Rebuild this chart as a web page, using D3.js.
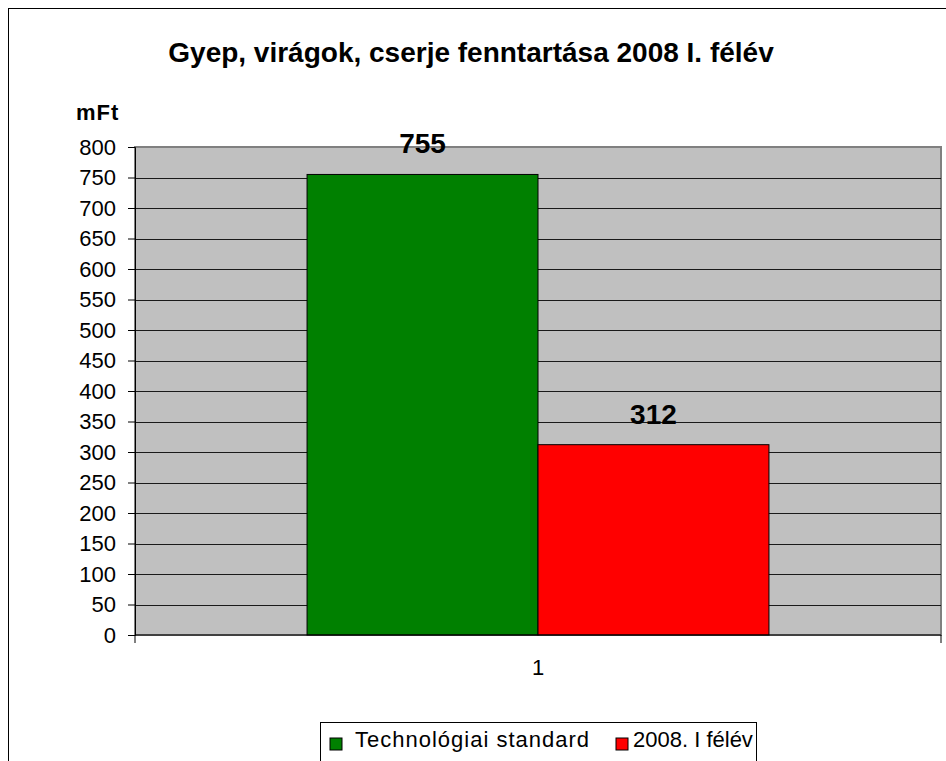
<!DOCTYPE html>
<html>
<head>
<meta charset="utf-8">
<script src="https://cdn.jsdelivr.net/npm/d3@7"></script>
<style>
  body { margin: 0; background: #fff; }
  text { font-family: "Liberation Sans", Arial, sans-serif; }
</style>
</head>
<body>
<div id="chart"></div>
<script>
// data
var categories = ["1"];
var seriesNames = ["Technológiai standard", "2008. I félév"];
var seriesValues = [755, 312];
var seriesColors = ["#008000", "#ff0000"];
var yTicks = [0, 50, 100, 150, 200, 250, 300, 350, 400, 450, 500, 550, 600, 650, 700, 750, 800];

var W = 946, H = 761;
var plot = {left: 135, top: 147, right: 941, bottom: 635};

var svg = d3.select("#chart")
  .append("svg")
    .attr("width", W)
    .attr("height", H);

// outer chart frame (runs off the page on right and bottom)
svg.append("rect")
  .attr("x", 8.5).attr("y", 8.5)
  .attr("width", W + 20).attr("height", H + 20)
  .attr("fill", "#fff")
  .attr("stroke", "#000")
  .attr("stroke-width", 1);

// scales
var x0 = d3.scaleBand()
  .domain(categories)
  .range([plot.left, plot.right]);

var x1 = d3.scaleBand()
  .domain(seriesNames)
  .range([0, x0.bandwidth()])
  .paddingOuter(0.745)
  .paddingInner(0);

var y = d3.scaleLinear()
  .domain([0, 800])
  .range([plot.bottom, plot.top]);

// plot background
svg.append("rect")
  .attr("x", plot.left).attr("y", plot.top)
  .attr("width", plot.right - plot.left)
  .attr("height", plot.bottom - plot.top)
  .attr("fill", "#c0c0c0")
  .attr("stroke", "#808080")
  .attr("stroke-width", 2);

// gridlines
svg.append("g")
  .selectAll("line")
  .data(yTicks.filter(function (d) { return d > 0 && d < 800; }))
  .enter()
  .append("line")
    .attr("x1", plot.left).attr("x2", plot.right)
    .attr("y1", function (d) { return Math.round(y(d)) + 0.5; })
    .attr("y2", function (d) { return Math.round(y(d)) + 0.5; })
    .attr("stroke", "#1a1a1a")
    .attr("stroke-width", 1);

// bars
svg.append("g")
  .selectAll("rect")
  .data(seriesValues)
  .enter()
  .append("rect")
    .attr("x", function (d, i) { return x0(categories[0]) + x1(seriesNames[i]); })
    .attr("y", function (d) { return y(d); })
    .attr("width", x1.bandwidth())
    .attr("height", function (d) { return y(0) - y(d); })
    .attr("fill", function (d, i) { return seriesColors[i]; })
    .attr("stroke", "#000")
    .attr("stroke-width", 1);

// value labels
svg.append("g")
  .selectAll("text")
  .data(seriesValues)
  .enter()
  .append("text")
    .attr("x", function (d, i) { return x0(categories[0]) + x1(seriesNames[i]) + x1.bandwidth() / 2; })
    .attr("y", function (d) { return y(d) - 21; })
    .attr("text-anchor", "middle")
    .attr("font-size", 28)
    .attr("font-weight", "bold")
    .text(function (d) { return d; });

// y axis
var yAxis = svg.append("g")
  .attr("transform", "translate(" + plot.left + ",0)")
  .call(d3.axisLeft(y).tickValues(yTicks).tickSize(7).tickPadding(12));
yAxis.select(".domain").attr("stroke", "#000");
yAxis.selectAll(".tick line").attr("stroke", "#000");
yAxis.selectAll(".tick text")
  .attr("font-size", 22)
  .attr("fill", "#000")
  .style("font-family", "'Liberation Sans', Arial, sans-serif");

// x axis
var xAxisG = svg.append("g")
  .attr("transform", "translate(0," + plot.bottom + ")");
xAxisG.append("line")
  .attr("x1", plot.left).attr("x2", plot.right)
  .attr("stroke", "#000");
xAxisG.selectAll(".edge")
  .data(x0.range())
  .enter()
  .append("line")
    .attr("x1", function (d) { return d; })
    .attr("x2", function (d) { return d; })
    .attr("y1", 0).attr("y2", 8)
    .attr("stroke", "#000");
xAxisG.selectAll(".cat")
  .data(categories)
  .enter()
  .append("text")
    .attr("x", function (d) { return x0(d) + x0.bandwidth() / 2; })
    .attr("y", 40)
    .attr("text-anchor", "middle")
    .attr("font-size", 22)
    .text(function (d) { return d; });

// title
svg.append("text")
  .attr("x", 471).attr("y", 62)
  .attr("text-anchor", "middle")
  .attr("font-size", 28)
  .attr("font-weight", "bold")
  .text("Gyep, virágok, cserje fenntartása 2008 I. félév");

// y unit
svg.append("text")
  .attr("x", 76).attr("y", 120)
  .attr("font-size", 22)
  .attr("font-weight", "bold")
  .attr("letter-spacing", 1)
  .text("mFt");

// legend
var legend = svg.append("g");
legend.append("rect")
  .attr("x", 320.5).attr("y", 722.5)
  .attr("width", 436).attr("height", 60)
  .attr("fill", "#fff")
  .attr("stroke", "#000");

var legendX = [330, 616];
var legendSpacing = [1, 0];
var item = legend.selectAll(".item")
  .data(seriesNames)
  .enter()
  .append("g")
    .attr("transform", function (d, i) { return "translate(" + legendX[i] + ",738)"; });
item.append("rect")
  .attr("width", 12).attr("height", 12)
  .attr("fill", function (d, i) { return seriesColors[i]; })
  .attr("stroke", "#000");
item.append("text")
  .attr("x", function (d, i) { return i === 0 ? 25 : 17; })
  .attr("y", 9)
  .attr("font-size", 22)
  .attr("letter-spacing", function (d, i) { return legendSpacing[i]; })
  .text(function (d) { return d; });
</script>
</body>
</html>
